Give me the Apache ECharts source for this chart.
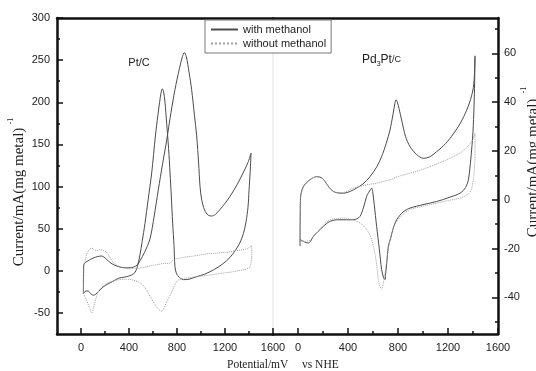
<!DOCTYPE html>
<html><head><meta charset="utf-8">
<script src="https://cdn.jsdelivr.net/npm/echarts@6/dist/echarts.min.js"></script>
<style>html,body{margin:0;padding:0;background:#fff}#c{width:536px;height:371px}</style>
</head><body><div id="c"></div>
<script>
// ---- Data (potential mV, current) ----
const seriesNames = ['with methanol', 'without methanol'];
const panelLabels = ['Pt/C', 'Pd3Pt/C'];
const xTickLabels = [0, 400, 800, 1200, 1600];
const xMinorTicks = [200, 600, 1000, 1400];
const leftYTicks = [-50, 0, 50, 100, 150, 200, 250, 300];
const leftYMinor = [-25, 25, 75, 125, 175, 225, 275];
const rightYTicks = [-40, -20, 0, 20, 40, 60];
const rightYMinor = [-50, -30, -10, 10, 30, 50, 70];

// Pt/C with methanol (forward then reverse scan)
const ptcWith = [
 [20,-27],[21,0],[25,8],[60,12],[100,15],[140,17],[172,17.5],[210,14],[250,9],[300,5.5],[350,3.8],[400,3.5],[440,4.5],[470,7],[492,12],
 [530,22],[575,38],[610,65],[644,96],[680,127],[714,155],[750,188],[783,215],[820,240],[845,254],[861,259],[878,254],[900,236],[922,215],
 [945,185],[964,160],[980,128],[992,100],[1005,85],[1030,72],[1060,66],[1090,65],[1120,67],[1160,73],[1200,80],[1240,88],[1300,102],
 [1350,116],[1390,128],[1417,139.5],
 [1410,118],[1400,95],[1392,76],[1375,58],[1353,44],[1320,32],[1280,23],[1242,16],[1180,8],[1103,1],[1030,-4],[964,-7],[900,-10],
 [853,-10.5],[820,-8],[795,-3],[783,5],[775,30],[764,56],[752,90],[742,116],[730,145],[714,175],[700,200],[688,213],[678,216],
 [668,212],[655,200],[640,184],[620,160],[589,116],[560,85],[533,56],[510,35],[490,18],[470,5],[450,-2],[420,-5],[380,-7],[340,-8],
 [311,-9],[260,-13],[220,-16],[186,-19],[150,-24],[120,-28],[103,-29],[80,-27],[60,-24],[40,-24],[20,-27]
];
// Pt/C without methanol
const ptcWithout = [
 [20,-27],[25,5],[33,12],[55,22],[89,27],[110,25],[130,24],[160,25],[190,24],[214,22],[240,16],[269,10],[320,5],[380,3],[440,2.5],
 [492,3],[550,5],[603,6.5],[660,8],[700,9],[730,8.5],[769,12.5],[820,15],[881,16.5],[960,18],[1047,20],[1130,21],[1214,22],[1300,24],
 [1381,26],[1422,30],
 [1422,16],[1415,8],[1408,4.5],[1380,2],[1325,0.5],[1250,-1.5],[1158,-3.3],[1050,-5.5],[936,-7.4],[860,-9],[810,-11],[780,-17],
 [750,-27],[714,-37],[690,-45],[672,-48],[650,-46],[631,-43],[590,-34],[547,-23],[500,-15],[436,-11],[380,-10],[325,-10.5],[270,-12],
 [214,-15],[170,-20],[144,-25],[120,-35],[100,-46],[89,-50],[70,-44],[47,-35],[30,-30],[20,-27]
];
// Pd3Pt/C with methanol
const pdptWith = [
 [16,-19],[18,-5],[21,1.4],[43,5.4],[90,8],[149,9.5],[190,9],[216,7.5],[250,5],[283,3.4],[320,2.8],[363,2.7],[420,3.5],[469,4.8],
 [520,6.5],[576,9.5],[630,13.5],[669,17.7],[705,23],[736,28.6],[760,35],[775,39.5],[784,41],[795,40],[810,37],[829,32.7],[860,26],
 [896,21.8],[950,18.5],[1003,17],[1050,17.5],[1109,19.7],[1180,23],[1243,27],[1300,31.5],[1349,36.7],[1380,41],[1403,46],[1412,52],
 [1416,59],
 [1413,48],[1408,38],[1400,28],[1389,20.4],[1375,13],[1363,8.2],[1340,5],[1296,2.7],[1200,0.8],[1109,-0.7],[1000,-2],[896,-3.4],
 [840,-5],[789,-8.2],[760,-12],[740,-16],[723,-19],[710,-26],[700,-31],[696,-32.7],[685,-32],[669,-28.6],[650,-20],[629,-10.9],
 [610,-2],[597,3.5],[589,4.8],[578,4],[565,3],[549,1.4],[525,-3],[496,-6.8],[460,-8],[416,-8.2],[360,-8.2],[309,-8.2],[250,-9],
 [203,-10.9],[160,-13],[123,-15],[100,-17],[83,-17.7],[60,-17.5],[43,-17],[16,-16.3]
];
// Pd3Pt/C without methanol
const pdptWithout = [
 [16,-17],[18,-5],[21,1],[43,5],[90,8],[149,9.5],[190,9],[216,7.5],[250,5],[283,3.5],[320,3],[363,3],[400,3.8],[443,4.8],[500,5.5],
 [560,6.2],[629,6.8],[680,7.5],[736,8.2],[800,9.5],[896,10.9],[970,12],[1056,13.6],[1150,15.5],[1243,17.7],[1320,20],[1376,23],
 [1405,25.5],[1416,27.2],
 [1416,17.7],[1410,12],[1403,8.2],[1385,4],[1363,2.4],[1296,0.7],[1200,-0.3],[1109,-1.4],[1000,-2.6],[896,-4],[840,-6],[789,-9],
 [760,-12],[736,-16.3],[715,-23],[696,-30],[680,-35],[669,-36.7],[655,-35.5],[643,-32.7],[625,-25],[603,-19],[580,-15],[549,-12.2],
 [510,-10],[469,-8.8],[420,-8],[363,-7.5],[310,-7.8],[256,-8.2],[200,-10.5],[160,-13],[123,-15],[100,-16.5],[60,-17],[16,-17]
];

// ---- Styles ----
const SANS = 'Liberation Sans, Arial, sans-serif';
const SERIF = 'Liberation Serif, Times New Roman, serif';
const lineAx = {show: true, onZero: false, lineStyle: {color: '#111', width: 2.5}};
const noLine = {show: false, onZero: false};
const tickMaj = v => ({show: true, inside: true, length: 6, customValues: v, lineStyle: {color: '#111', width: 1.5}});
const tickMin = v => ({show: true, inside: true, length: 3, customValues: v, lineStyle: {color: '#111', width: 1.5}});
const lab = (v, extra) => Object.assign({show: true, customValues: v, color: '#222', fontSize: 11, fontFamily: SANS,
  formatter: val => String(val)}, extra || {});

function xAxes(g) {
  const base = {type: 'value', gridIndex: g, min: -200, max: 1600, splitLine: {show: false}};
  return [
    Object.assign({}, base, {position: 'bottom', axisLine: lineAx, axisTick: tickMaj(xTickLabels), axisLabel: lab(xTickLabels, {margin: 8})}),
    Object.assign({}, base, {position: 'bottom', axisLine: noLine, axisTick: tickMin(xMinorTicks), axisLabel: {show: false}}),
    Object.assign({}, base, {position: 'top', axisLine: lineAx, axisTick: {show: false}, axisLabel: {show: false}})
  ];
}

const solid = {color: '#4a4a4a', width: 1};
const dotted = {color: '#a0a0a0', width: 1, type: 'dotted'};
function ser(name, data, xi, yi, ls) {
  return {name, type: 'line', data, xAxisIndex: xi, yAxisIndex: yi, symbol: 'none', showSymbol: false,
    smooth: 0.3, lineStyle: ls, itemStyle: {color: ls.color}, animation: false};
}

const option = {
  animation: false,
  grid: [
    {left: 57, right: 263, top: 18, bottom: 37, show: true, borderColor: '#ececec', borderWidth: 1},
    {left: 273, right: 38, top: 18, bottom: 37, show: true, borderColor: '#ececec', borderWidth: 1}
  ],
  xAxis: [...xAxes(0), ...xAxes(1)],
  yAxis: [
    {type: 'value', gridIndex: 0, min: -75, max: 300, position: 'left', splitLine: {show: false},
      axisLine: lineAx, axisTick: tickMaj(leftYTicks), axisLabel: lab(leftYTicks, {margin: 7})},
    {type: 'value', gridIndex: 0, min: -75, max: 300, position: 'left', splitLine: {show: false},
      axisLine: noLine, axisTick: tickMin(leftYMinor), axisLabel: {show: false}},
    {type: 'value', gridIndex: 1, min: -55, max: 74.5, position: 'right', splitLine: {show: false},
      axisLine: lineAx, axisTick: tickMaj(rightYTicks), axisLabel: lab(rightYTicks, {margin: 6})},
    {type: 'value', gridIndex: 1, min: -55, max: 74.5, position: 'right', splitLine: {show: false},
      axisLine: noLine, axisTick: tickMin(rightYMinor), axisLabel: {show: false}}
  ],
  legend: {
    data: seriesNames, orient: 'vertical', left: 205, top: 20, padding: [4, 5, 4, 5], itemGap: 3,
    itemWidth: 27, itemHeight: 11, backgroundColor: '#fff', borderColor: '#777', borderWidth: 1,
    itemStyle: {opacity: 0, borderWidth: 0},
    textStyle: {fontSize: 11, color: '#222', fontFamily: SANS}
  },
  series: [
    ser(seriesNames[0], ptcWith, 0, 0, solid),
    ser(seriesNames[1], ptcWithout, 0, 0, dotted),
    ser(seriesNames[0], pdptWith, 3, 2, solid),
    ser(seriesNames[1], pdptWithout, 3, 2, dotted)
  ],
  graphic: [
    {type: 'text', x: 139, y: 63, style: {text: panelLabels[0], fill: '#222', font: '11px ' + SANS, align: 'center', verticalAlign: 'middle'}},
    {type: 'text', x: 362, y: 60, style: {text: '{a|Pd}{s|3}{a|Pt}{b|/C}', verticalAlign: 'middle', align: 'left',
      rich: {a: {fontSize: 12, fontFamily: SANS, fill: '#222'}, s: {fontSize: 7, fontFamily: SANS, fill: '#222', padding: [8, 0, 0, 0]}, b: {fontSize: 9, fontFamily: SANS, fill: '#222'}}}},
    {type: 'text', x: 19, y: 197, rotation: Math.PI / 2, style: {text: 'Current/mA(mg metal)', fill: '#222', font: '15px ' + SERIF, align: 'center', verticalAlign: 'middle'}},
    {type: 'text', x: 11, y: 121, rotation: Math.PI / 2, style: {text: '-1', fill: '#222', font: '8px ' + SERIF, align: 'center', verticalAlign: 'middle'}},
    {type: 'text', x: 533, y: 168, rotation: Math.PI / 2, style: {text: 'Current/mA(mg metal)', fill: '#222', font: '15px ' + SERIF, align: 'center', verticalAlign: 'middle'}},
    {type: 'text', x: 524, y: 90, rotation: Math.PI / 2, style: {text: '-1', fill: '#222', font: '8px ' + SERIF, align: 'center', verticalAlign: 'middle'}},
    {type: 'text', x: 227, y: 365, style: {text: 'Potential/mV', fill: '#222', font: '11.5px ' + SERIF, align: 'left', verticalAlign: 'middle'}},
    {type: 'text', x: 302, y: 365, style: {text: 'vs NHE', fill: '#222', font: '11.5px ' + SERIF, align: 'left', verticalAlign: 'middle'}}
  ]
};
const chart = echarts.init(document.getElementById('c'), null, {renderer: 'canvas'});
chart.setOption(option);
</script></body></html>
